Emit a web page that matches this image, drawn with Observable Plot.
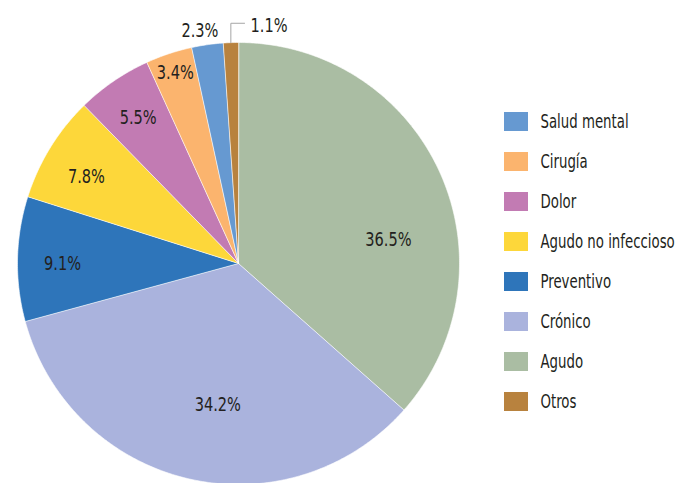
<!DOCTYPE html>
<html>
<head>
<meta charset="utf-8">
<script src="https://cdn.jsdelivr.net/npm/d3@7"></script>
<script src="https://cdn.jsdelivr.net/npm/@observablehq/plot@0.6"></script>
<style>
  html, body { margin: 0; padding: 0; background: #ffffff; }
  #chart { display: flex; width: 678px; height: 483px; overflow: hidden; }
  #chart svg { background: transparent; font-stretch: condensed; }
  #chart svg text { font-stretch: condensed; }
</style>
</head>
<body>
<div id="chart"></div>
<script>
// ---- data ----
const names = ["Agudo", "Crónico", "Preventivo", "Agudo no infeccioso", "Dolor", "Cirugía", "Salud mental", "Otros"];
const values = [36.5, 34.2, 9.1, 7.8, 5.5, 3.4, 2.3, 1.1];
const colors = ["#AABDA3", "#AAB3DD", "#2E75BA", "#FDD73A", "#C27BB3", "#FBB46E", "#6699D1", "#B8823E"];
const legendOrder = ["Salud mental", "Cirugía", "Dolor", "Agudo no infeccioso", "Preventivo", "Crónico", "Agudo", "Otros"];

// ---- layout (not data) ----
const W = 678, H = 483, pieW = 490;
const cx = 238, cy = 263, R = 221;
const labelRadius = [0.687, 0.644, 0.796, 0.793, 0.803, 0.908, 1.067, null];
const labelTurn = [15.1, -4.8, -1.2, -1.8, 0, 0, -1.3, 0];
const font = "'DejaVu Sans', sans-serif";
const fs = 20;
const squeezePct = 0.81, squeezeLegend = 0.74;
const textColor = "#231F20";

const total = d3.sum(values);
const toRad = Math.PI / 180;
let acc = 0;
const slices = names.map((name, i) => {
  const a0 = acc / total * 360;
  acc += values[i];
  const a1 = acc / total * 360;
  return {name, value: values[i], a0, a1, mid: (a0 + a1) / 2, i};
});

const slicePoints = [];
for (const s of slices) {
  slicePoints.push({name: s.name, x: 0, y: 0});
  const n = Math.max(2, Math.ceil((s.a1 - s.a0) / 0.5));
  for (let k = 0; k <= n; k++) {
    const a = (s.a0 + (s.a1 - s.a0) * k / n) * toRad;
    slicePoints.push({name: s.name, x: Math.sin(a), y: Math.cos(a)});
  }
}

const inLabels = slices.filter(s => labelRadius[s.i] != null).map(s => {
  const a = (s.mid + labelTurn[s.i]) * toRad;
  const r = labelRadius[s.i];
  return {x: r * Math.sin(a), y: r * Math.cos(a), text: s.value.toFixed(1) + "%"};
});

// leader label for the smallest slice
const last = slices[slices.length - 1];
const ea = last.mid * toRad;
const elbowY = 1.087;
const leader = [
  {x: Math.sin(ea), y: Math.cos(ea)},
  {x: Math.sin(ea), y: elbowY},
  {x: Math.sin(ea) + 0.062, y: elbowY}
];
const leaderLabel = [{x: Math.sin(ea) + 0.089, y: elbowY - 0.012, text: last.value.toFixed(1) + "%"}];

const color = {domain: names, range: colors};

const pie = Plot.plot({
  width: pieW, height: H,
  margin: 0,
  style: {background: "transparent", fontFamily: font},
  x: {domain: [-cx / R, (pieW - cx) / R], range: [0, pieW], axis: null},
  y: {domain: [-(H - cy) / R, cy / R], range: [H, 0], axis: null},
  color,
  marks: [
    Plot.line(slicePoints, {x: "x", y: "y", z: "name", fill: "name", stroke: "#ffffff", strokeWidth: 0.6, curve: "linear-closed"}),
    Plot.text(inLabels, {x: "x", y: "y", text: "text", fontSize: fs, fill: textColor}),
    Plot.line(leader, {x: "x", y: "y", stroke: "#A6A6A6", strokeWidth: 1}),
    Plot.text(leaderLabel, {x: "x", y: "y", text: "text", fontSize: fs, fill: textColor, textAnchor: "start"})
  ]
});

const legend = Plot.plot({
  width: W - pieW, height: H,
  margin: 0,
  style: {background: "transparent", fontFamily: font},
  x: {type: "band", domain: ["k"], range: [14, 38], padding: 0, axis: null},
  y: {type: "band", domain: legendOrder, range: [110.5, 411.5], paddingInner: 0.53, paddingOuter: 0, axis: null},
  color,
  marks: [
    Plot.cell(legendOrder, {x: () => "k", y: d => d, fill: d => d}),
    Plot.text(legendOrder, {x: () => "k", y: d => d, text: d => d, dx: 24, textAnchor: "start", fontSize: fs, fill: textColor})
  ]
});

document.getElementById("chart").append(pie, legend);

// condense the text horizontally to mimic the narrow typeface of the original
function squeeze(svg, factor) {
  svg.querySelectorAll("text").forEach(t => {
    const w = t.getComputedTextLength();
    t.setAttribute("textLength", (w * factor).toFixed(2));
    t.setAttribute("lengthAdjust", "spacingAndGlyphs");
  });
}
squeeze(pie, squeezePct);
squeeze(legend, squeezeLegend);
</script>
</body>
</html>
